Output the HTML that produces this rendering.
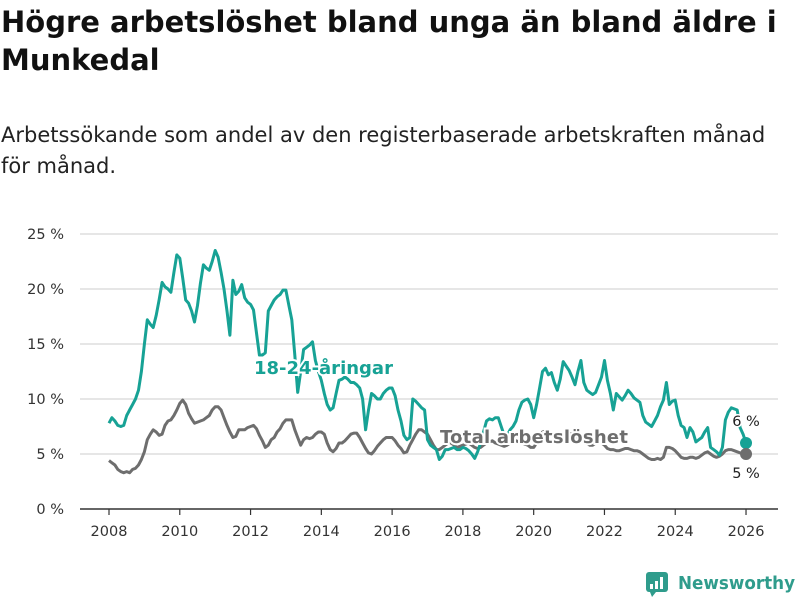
<!DOCTYPE html>
<html><head><meta charset="utf-8">
<style>
body{margin:0;background:#fff;font-family:"DejaVu Sans","Liberation Sans",sans-serif;}
#wrap{position:relative;width:800px;height:600px;overflow:hidden;}
h1{position:absolute;left:1px;top:3px;margin:0;font-size:29px;line-height:38px;font-weight:bold;color:#111;width:800px;white-space:nowrap;}
.sub{position:absolute;left:1px;top:120px;margin:0;font-size:21px;line-height:31px;color:#222;width:800px;white-space:nowrap;}
svg{position:absolute;left:0;top:0;font-family:"DejaVu Sans","Liberation Sans",sans-serif;}
</style></head><body>
<div id="wrap">
<h1>Högre arbetslöshet bland unga än bland äldre i<br>Munkedal</h1>
<p class="sub">Arbetssökande som andel av den registerbaserade arbetskraften månad<br>för månad.</p>
<svg id="chart" width="800" height="600"></svg>
</div>
<script>
const startYear = 2008;
const yTicks = [0,5,10,15,20,25];
const xTicks = [2008,2010,2012,2014,2016,2018,2020,2022,2024,2026];
const youth = [
7.8,8.3,8.0,7.6,7.5,7.6,8.5,9.0,9.5,10.0,10.8,12.5,
15.0,17.2,16.8,16.5,17.6,19.0,20.6,20.2,20.0,19.7,21.5,23.1,
22.8,21.0,19.0,18.7,18.0,17.0,18.5,20.5,22.2,21.9,21.7,22.5,
23.5,22.9,21.5,20.0,18.0,15.8,20.8,19.5,19.8,20.4,19.2,18.8,
18.6,18.1,16.0,14.0,14.0,14.2,18.0,18.5,19.0,19.3,19.5,19.9,
19.9,18.5,17.2,14.0,10.6,12.5,14.5,14.7,14.9,15.2,13.5,12.5,
11.7,10.5,9.5,9.0,9.2,10.5,11.7,11.8,12.0,11.8,11.5,11.5,
11.3,11.0,10.0,7.2,9.0,10.5,10.3,10.0,10.0,10.5,10.8,11.0,
11.0,10.3,9.0,8.0,6.7,6.3,6.5,10.0,9.8,9.5,9.2,9.0,
6.3,5.8,5.6,5.4,4.5,4.8,5.4,5.4,5.5,5.6,5.4,5.4,
5.6,5.5,5.3,5.0,4.6,5.2,6.0,7.0,8.0,8.2,8.1,8.3,
8.3,7.5,6.7,6.7,7.2,7.5,8.0,9.0,9.7,9.9,10.0,9.5,
8.3,9.5,11.0,12.5,12.8,12.2,12.4,11.5,10.8,11.8,13.4,13.0,
12.6,12.0,11.3,12.5,13.5,11.5,10.8,10.6,10.4,10.6,11.3,12.0,
13.5,11.7,10.5,9.0,10.5,10.2,9.9,10.3,10.8,10.5,10.1,9.9,
9.7,8.5,7.9,7.7,7.5,8.0,8.5,9.3,9.9,11.5,9.5,9.8,
9.9,8.5,7.6,7.4,6.5,7.4,7.0,6.1,6.3,6.5,7.0,7.4,
5.6,5.4,5.2,4.9,5.6,8.1,8.8,9.2,9.1,9.0,7.4,6.8,
6.0];
const total = [
4.4,4.2,4.0,3.6,3.4,3.3,3.4,3.3,3.6,3.7,4.0,4.5,
5.2,6.3,6.8,7.2,7.0,6.7,6.8,7.6,8.0,8.1,8.5,9.0,
9.6,9.9,9.5,8.7,8.2,7.8,7.9,8.0,8.1,8.3,8.5,9.0,
9.3,9.3,9.0,8.3,7.6,7.0,6.5,6.6,7.2,7.2,7.2,7.4,
7.5,7.6,7.3,6.7,6.2,5.6,5.8,6.3,6.5,7.0,7.3,7.8,
8.1,8.1,8.1,7.2,6.5,5.8,6.3,6.5,6.4,6.5,6.8,7.0,
7.0,6.8,6.0,5.4,5.2,5.5,6.0,6.0,6.2,6.5,6.8,6.9,
6.9,6.5,6.0,5.5,5.1,5.0,5.3,5.7,6.0,6.3,6.5,6.5,
6.5,6.2,5.8,5.5,5.1,5.2,5.8,6.3,6.8,7.2,7.2,7.0,
6.8,6.3,5.8,5.4,5.4,5.6,5.8,6.0,6.0,5.8,5.6,5.7,
5.8,5.9,6.0,5.8,5.6,5.5,5.6,5.8,6.0,6.1,6.2,6.0,
5.9,5.8,5.7,5.8,6.0,6.2,6.2,6.1,6.0,5.9,5.8,5.6,
5.6,6.0,6.6,7.0,7.1,7.0,6.8,6.6,6.5,6.6,6.8,6.9,
6.9,6.8,6.6,6.5,6.5,6.3,6.0,5.8,5.8,6.0,6.2,6.0,
5.8,5.5,5.4,5.4,5.3,5.3,5.4,5.5,5.5,5.4,5.3,5.3,
5.2,5.0,4.8,4.6,4.5,4.5,4.6,4.5,4.7,5.6,5.6,5.5,
5.3,5.0,4.7,4.6,4.6,4.7,4.7,4.6,4.7,4.9,5.1,5.2,
5.0,4.8,4.7,4.8,5.0,5.3,5.4,5.4,5.3,5.2,5.1,5.0,
5.0];
const endLabels = ["6 %","5 %"];

const NS="http://www.w3.org/2000/svg";
const svg=document.getElementById('chart');
const X=y=>109+(y-2008)*35.39;
const Y=v=>509-v*11;
function mk(t,a,txt){const e=document.createElementNS(NS,t);for(const k in a)e.setAttribute(k,a[k]);if(txt!=null)e.textContent=txt;svg.appendChild(e);return e;}

yTicks.forEach(v=>{
  const g=mk('line',{x1:80,x2:778,y1:Y(v),y2:Y(v),stroke:v===0?'#333':'#ddd','stroke-width':1.5});
  
  
  const t=mk('text',{x:64,y:Y(v)+5,'text-anchor':'end','font-size':14.5,fill:'#333'},v+' %');
  
  
});
xTicks.forEach(yr=>{
  const l=mk('line',{x1:X(yr),x2:X(yr),y1:509,y2:515,stroke:'#333','stroke-width':1.2});
  
  
  const t=mk('text',{x:X(yr),y:536,'text-anchor':'middle','font-size':14.5,fill:'#333'},yr);
  
  
});
function pathOf(arr){return arr.map((v,i)=>(i?'L':'M')+X(startYear+i/12).toFixed(1)+','+Y(v).toFixed(1)).join('');}
const pt=mk('path',{d:pathOf(total),fill:'none',stroke:'#6e6e6e','stroke-width':3,'stroke-linejoin':'round'});


const py=mk('path',{d:pathOf(youth),fill:'none',stroke:'#17a295','stroke-width':3,'stroke-linejoin':'round'});



const lx=startYear+(youth.length-1)/12;
const dy=mk('circle',{cx:X(lx),cy:Y(youth[youth.length-1]),r:6,fill:'#17a295'});


const dt=mk('circle',{cx:X(lx),cy:Y(total[total.length-1]),r:6,fill:'#6e6e6e'});


const e1=mk('text',{x:X(lx),y:Y(youth[youth.length-1])-17,'text-anchor':'middle','font-size':14.5,fill:'#222',stroke:'#fff','stroke-width':3,'paint-order':'stroke'},endLabels[0]);


const e2=mk('text',{x:X(lx),y:Y(total[total.length-1])+24,'text-anchor':'middle','font-size':14.5,fill:'#222',stroke:'#fff','stroke-width':3,'paint-order':'stroke'},endLabels[1]);



const s1=mk('text',{x:254,y:374,'font-size':18,'font-weight':'bold',fill:'#17a295',stroke:'#fff','stroke-width':4,'paint-order':'stroke'},'18-24-åringar');


const s2=mk('text',{x:440,y:443,'font-size':18,'font-weight':'bold',fill:'#6e6e6e',stroke:'#fff','stroke-width':4,'paint-order':'stroke','textLength':188},'Total arbetslöshet');



const logo=document.createElementNS(NS,'g');


logo.innerHTML='<rect x="646" y="572" width="22" height="20" rx="3" fill="#2f9c8c"/><path d="M650 592 L652 597 L656 592Z" fill="#2f9c8c"/><rect x="650" y="584" width="3" height="5" fill="#fff"/><rect x="655" y="581" width="3" height="8" fill="#fff"/><rect x="660" y="577" width="3" height="12" fill="#fff"/><text x="678" y="589" font-size="18" font-weight="bold" fill="#2f9c8c" textLength="117" lengthAdjust="spacingAndGlyphs">Newsworthy</text>';
svg.appendChild(logo);
</script>
</body></html>
